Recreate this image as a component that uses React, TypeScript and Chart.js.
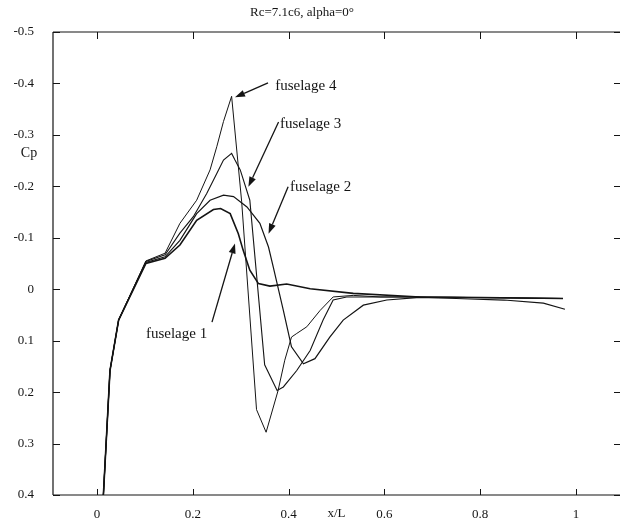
import React, { useEffect, useRef } from "react";
import { Chart, registerables } from "chart.js";

Chart.register(...registerables);

const FONT = "'Liberation Serif', 'Times New Roman', serif";
const INK = "#141414";

const titleText = "Rc=7.1c6, alpha=0°";
const yAxisLabel = "Cp";
const xAxisLabel = "x/L";

const xTicks = [0, 0.2, 0.4, 0.6, 0.8, 1];
const yTicks = [-0.5, -0.4, -0.3, -0.2, -0.1, 0, 0.1, 0.2, 0.3, 0.4];
const xMin = -0.092;
const xMax = 1.092;
const yMin = -0.5;
const yMax = 0.4;

const seriesNames = ["fuselage 1", "fuselage 2", "fuselage 3", "fuselage 4"];

const f1X = [0.0075, 0.027, 0.045, 0.102, 0.142, 0.173, 0.208, 0.243, 0.258, 0.278, 0.295, 0.305, 0.319, 0.337, 0.361, 0.396, 0.445, 0.535, 0.674, 0.8, 0.973];
const f1Cp = [0.5, 0.158, 0.06, -0.05, -0.06, -0.086, -0.134, -0.155, -0.157, -0.147, -0.108, -0.076, -0.037, -0.011, -0.006, -0.01, -0.001, 0.008, 0.015, 0.016, 0.018];

const f2X = [0.0075, 0.027, 0.045, 0.102, 0.142, 0.173, 0.208, 0.236, 0.264, 0.285, 0.313, 0.34, 0.358, 0.368, 0.389, 0.406, 0.431, 0.455, 0.486, 0.514, 0.556, 0.605, 0.674, 0.75, 0.85, 0.932, 0.977];
const f2Cp = [0.5, 0.158, 0.06, -0.052, -0.063, -0.095, -0.147, -0.173, -0.183, -0.18, -0.16, -0.128, -0.082, -0.043, 0.041, 0.112, 0.145, 0.135, 0.093, 0.06, 0.031, 0.021, 0.016, 0.018, 0.021, 0.027, 0.039];

const f3X = [0.0075, 0.027, 0.045, 0.102, 0.142, 0.173, 0.201, 0.229, 0.25, 0.264, 0.281, 0.288, 0.299, 0.319, 0.35, 0.376, 0.389, 0.417, 0.445, 0.472, 0.493, 0.521, 0.674, 0.973];
const f3Cp = [0.5, 0.158, 0.06, -0.054, -0.067, -0.109, -0.141, -0.186, -0.225, -0.251, -0.264, -0.251, -0.232, -0.173, 0.147, 0.197, 0.19, 0.158, 0.119, 0.06, 0.021, 0.015, 0.015, 0.018];

const f4X = [0.0075, 0.027, 0.045, 0.102, 0.142, 0.173, 0.208, 0.236, 0.25, 0.264, 0.281, 0.302, 0.333, 0.353, 0.378, 0.392, 0.406, 0.417, 0.438, 0.466, 0.493, 0.535, 0.591, 0.674, 0.973];
const f4Cp = [0.5, 0.158, 0.06, -0.055, -0.07, -0.128, -0.173, -0.232, -0.277, -0.326, -0.375, -0.17, 0.234, 0.278, 0.197, 0.138, 0.093, 0.086, 0.073, 0.041, 0.015, 0.012, 0.015, 0.015, 0.018];

// annotation label anchors (data coords): text left/middle, arrow tail, arrow head
const labelX = [0.102, 0.403, 0.382, 0.372];
const labelCp = [0.0875, -0.199, -0.322, -0.394];
const arrowTailX = [0.24, 0.399, 0.379, 0.357];
const arrowTailCp = [0.064, -0.199, -0.325, -0.401];
const arrowHeadX = [0.288, 0.358, 0.316, 0.288];
const arrowHeadCp = [-0.089, -0.108, -0.199, -0.373];

const fmt = (v: number) => {
  const r = Math.round(v * 10) / 10;
  return r === 0 ? "0" : String(r);
};

const toPts = (xs: number[], ys: number[]) => xs.map((x, i) => ({ x, y: ys[i] }));

export default function App() {
  const ref = useRef<HTMLCanvasElement>(null);

  useEffect(() => {
    if (!ref.current) return;

    const framePlugin = {
      id: "frame",
      afterDraw(chart: any) {
        const { ctx, chartArea, scales } = chart;
        const { left, right, top, bottom } = chartArea;
        const xs = scales.x;
        const ys = scales.y;
        ctx.save();
        ctx.strokeStyle = INK;
        ctx.lineWidth = 1.2;
        ctx.beginPath();
        ctx.moveTo(left, top);
        ctx.lineTo(right, top);
        ctx.moveTo(left, top);
        ctx.lineTo(left, bottom);
        ctx.moveTo(left, bottom);
        ctx.lineTo(right, bottom);
        ctx.stroke();

        ctx.lineWidth = 1;
        ctx.beginPath();
        yTicks.forEach((v) => {
          const py = Math.round(ys.getPixelForValue(v)) + 0.5;
          ctx.moveTo(left, py);
          ctx.lineTo(left + 7, py);
          ctx.moveTo(right - 6, py);
          ctx.lineTo(right, py);
        });
        xTicks.forEach((v) => {
          const px = Math.round(xs.getPixelForValue(v)) + 0.5;
          ctx.moveTo(px, bottom);
          ctx.lineTo(px, bottom - 6);
          ctx.moveTo(px, top);
          ctx.lineTo(px, top + 7);
        });
        ctx.stroke();

        ctx.fillStyle = INK;
        ctx.textBaseline = "middle";
        ctx.textAlign = "center";
        ctx.font = `13px ${FONT}`;
        ctx.fillText(titleText, 302, 13);
        ctx.font = `14px ${FONT}`;
        ctx.fillText(yAxisLabel, 29, ys.getPixelForValue(-0.265));
        ctx.font = `13px ${FONT}`;
        ctx.fillText(xAxisLabel, xs.getPixelForValue(0.5), 514);

        ctx.font = `15px ${FONT}`;
        ctx.textAlign = "left";
        seriesNames.forEach((name, i) => {
          ctx.fillText(name, xs.getPixelForValue(labelX[i]), ys.getPixelForValue(labelCp[i]));
          const tx = xs.getPixelForValue(arrowTailX[i]);
          const ty = ys.getPixelForValue(arrowTailCp[i]);
          const hx = xs.getPixelForValue(arrowHeadX[i]);
          const hy = ys.getPixelForValue(arrowHeadCp[i]);
          const ang = Math.atan2(hy - ty, hx - tx);
          const len = 10;
          const hw = 3.5;
          const bx = hx - len * Math.cos(ang);
          const by = hy - len * Math.sin(ang);
          ctx.lineWidth = 1.3;
          ctx.beginPath();
          ctx.moveTo(tx, ty);
          ctx.lineTo(bx, by);
          ctx.stroke();
          ctx.beginPath();
          ctx.moveTo(hx, hy);
          ctx.lineTo(bx + hw * Math.sin(ang), by - hw * Math.cos(ang));
          ctx.lineTo(bx - hw * Math.sin(ang), by + hw * Math.cos(ang));
          ctx.closePath();
          ctx.fill();
        });
        ctx.restore();
      },
    };

    const mk = (label: string, xs: number[], ys: number[], w: number) => ({
      label,
      data: toPts(xs, ys),
      borderColor: INK,
      backgroundColor: INK,
      borderWidth: w,
      pointRadius: 0,
      tension: 0,
      fill: false,
    });

    const chart = new Chart(ref.current, {
      type: "line",
      data: {
        datasets: [
          mk(seriesNames[0], f1X, f1Cp, 1.6),
          mk(seriesNames[1], f2X, f2Cp, 1.2),
          mk(seriesNames[2], f3X, f3Cp, 1.1),
          mk(seriesNames[3], f4X, f4Cp, 1.0),
        ],
      },
      options: {
        responsive: false,
        animation: false,
        devicePixelRatio: 1,
        layout: { padding: { left: 0, right: 0, top: 32, bottom: 0 } },
        plugins: {
          legend: { display: false },
          title: { display: false },
          tooltip: { enabled: false },
        },
        scales: {
          x: {
            type: "linear",
            min: xMin,
            max: xMax,
            grid: { display: false, drawTicks: false },
            border: { display: false },
            afterBuildTicks: (s: any) => {
              s.ticks = xTicks.map((v) => ({ value: v }));
            },
            afterFit: (s: any) => {
              s.height = 27;
            },
            ticks: {
              autoSkip: false,
              maxRotation: 0,
              padding: 12,
              color: INK,
              font: { family: FONT, size: 13 },
              callback: (v: any) => fmt(Number(v)),
            },
          },
          y: {
            type: "linear",
            reverse: true,
            min: yMin,
            max: yMax,
            grid: { display: false, drawTicks: false },
            border: { display: false },
            afterBuildTicks: (s: any) => {
              s.ticks = yTicks.map((v) => ({ value: v }));
            },
            afterFit: (s: any) => {
              s.width = 53;
            },
            ticks: {
              autoSkip: false,
              padding: 19,
              color: INK,
              font: { family: FONT, size: 13 },
              callback: (v: any) => fmt(Number(v)),
            },
          },
        },
      },
      plugins: [framePlugin],
    } as any);

    return () => chart.destroy();
  }, []);

  return (
    <div style={{ position: "fixed", left: 0, top: 0, width: 620, height: 522, background: "#fff" }}>
      <canvas ref={ref} width={620} height={522} style={{ display: "block" }} />
    </div>
  );
}
